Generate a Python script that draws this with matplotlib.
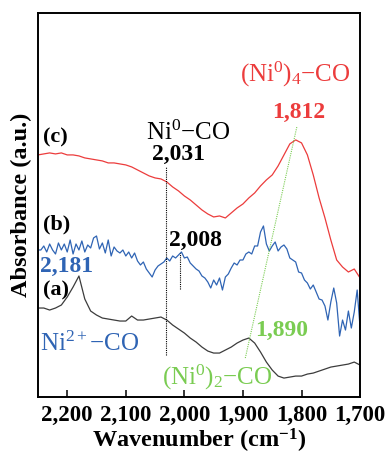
import numpy as np
import matplotlib
matplotlib.use("Agg")
import matplotlib.pyplot as plt

plt.rcParams['font.family'] = ['Liberation Serif', 'DejaVu Serif']
plt.rcParams['mathtext.fontset'] = 'custom'
plt.rcParams['mathtext.rm'] = 'Liberation Serif'
plt.rcParams['mathtext.it'] = 'Liberation Serif:italic'
plt.rcParams['mathtext.bf'] = 'Liberation Serif:bold'

# wavenumber grids (cm-1)
wn_fine = np.arange(2250, 1699, -5)
wn_coarse = np.arange(2250, 1699, -10)

# (c) red spectrum, a.u.
spec_c = [242, 243, 244, 243, 244, 242, 242, 241, 239, 238, 237, 236, 234, 234,
          233, 232, 230, 227, 224, 221, 219, 218, 215, 210, 206, 201, 197, 192,
          187, 183, 180, 181, 179, 184, 189, 193, 199, 204, 211, 217, 222, 231,
          242, 253, 257, 254, 242, 222, 199, 179, 157, 137, 130, 125, 128, 119]

# (b) blue spectrum, a.u.
spec_b = [147, 147, 151, 145, 153, 147, 143, 154, 147, 153,
          145, 157, 143, 153, 147, 156, 145, 152, 149, 159,
          161, 148, 154, 144, 157, 141, 150, 146, 144, 147,
          141, 145, 139, 144, 136, 132, 135, 128, 124, 120,
          127, 131, 133, 135, 139, 136, 141, 139, 142, 145,
          139, 140, 134, 131, 128, 126, 121, 119, 115, 109,
          117, 112, 119, 107, 120, 123, 129, 134, 132, 137,
          137, 143, 145, 143, 151, 151, 165, 171, 153, 146,
          151, 155, 146, 150, 152, 148, 139, 137, 135, 125,
          124, 117, 114, 108, 112, 105, 98, 97, 91, 77,
          95, 109, 94, 61, 77, 67, 86, 69, 85, 107, 69]

# (a) black spectrum, a.u.
spec_a = [89, 89, 87, 89, 92, 100, 110, 121, 98, 86, 82, 79, 78, 77, 76, 76,
          81, 77, 77, 78, 79, 80, 77, 72, 68, 64, 59, 55, 50, 46, 44, 44, 47,
          50, 54, 57, 59, 54, 45, 35, 27, 21, 19, 20, 21, 21, 23, 24, 26, 28,
          30, 31, 32, 33, 35, 32]

tick_pos = [2200, 2100, 2000, 1900, 1800, 1700]
tick_lab = ['2,200', '2,100', '2,000', '1,900', '1,800', '1,700']

red = '#ec3c3c'
blue = '#2f64b4'
green = '#7acc52'
dark = '#3c3c3c'

fig = plt.figure(figsize=(3.91, 4.58), dpi=100)
ax = fig.add_axes([0.097, 0.133, 0.824, 0.839])

ax.plot(wn_coarse, spec_c, color=red, lw=0.9)
ax.plot(wn_fine, spec_b, color=blue, lw=0.9)
ax.plot(wn_coarse, spec_a, color=dark, lw=0.9)

# guide lines
ax.plot([2031, 2031], [42, 230], color='k', lw=0.8, ls=(0, (1, 1)))
ax.plot([2008, 2008], [108, 144], color='k', lw=0.8, ls=(0, (1, 1)))
ax.plot([1896, 1808], [39, 270], color=green, lw=0.8, ls=(0, (1, 1)))

# labels
ax.text(1905, 322, r'(Ni$^{0}$)$_{4}$−CO', color=red, fontsize=18, va='center')
ax.text(1850, 284, '1,812', color=red, fontsize=17, fontweight='bold', va='center')
ax.text(2241, 259, '(c)', fontsize=16, fontweight='bold', va='center')
ax.text(2066, 264, r'Ni$^{0}$−CO', fontsize=18, va='center')
ax.text(2055, 242, '2,031', fontsize=17, fontweight='bold', va='center')
ax.text(2241, 172, '(b)', fontsize=16, fontweight='bold', va='center')
ax.text(2026, 157, '2,008', fontsize=17, fontweight='bold', va='center')
ax.text(2247, 131, '2,181', color=blue, fontsize=17, fontweight='bold', va='center')
ax.text(2241, 107, '(a)', fontsize=16, fontweight='bold', va='center')
ax.text(2247, 53, r'Ni$^{2+}$−CO', color=blue, fontsize=18, va='center')
ax.text(1880, 67, '1,890', color=green, fontsize=17, fontweight='bold', va='center')
ax.text(2038, 20, r'(Ni$^{0}$)$_{2}$−CO', color=green, fontsize=18, va='center')

ax.set_xlim(2250, 1700)
ax.set_ylim(0, 384)
ax.set_xticks(tick_pos)
ax.set_xticklabels(tick_lab, fontsize=16.5, fontweight='bold')
ax.set_yticks([])
ax.tick_params(axis='x', direction='in', length=5, width=1.1, pad=6)
for s in ax.spines.values():
    s.set_linewidth(1.4)

ax.set_xlabel(r'Wavenumber (cm$^{\mathbf{-1}}$)', fontsize=17.5, fontweight='bold', labelpad=0)
ax.set_ylabel('Absorbance (a.u.)', fontsize=17.5, fontweight='bold', labelpad=4)

fig.savefig('out.png', dpi=100)
